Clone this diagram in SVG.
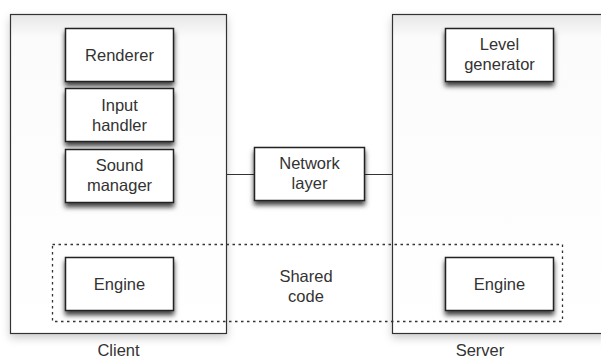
<svg xmlns="http://www.w3.org/2000/svg" width="601" height="359" viewBox="0 0 601 359">
<defs>
<filter id="sh" x="-20%" y="-30%" width="140%" height="170%">
<feGaussianBlur in="SourceAlpha" stdDeviation="2.5" result="blur"/>
<feOffset in="blur" dx="0" dy="4" result="off"/>
<feFlood flood-color="#000" flood-opacity="0.75" result="col"/>
<feComposite in="col" in2="off" operator="in" result="shadow"/>
<feMerge><feMergeNode in="shadow"/><feMergeNode in="SourceGraphic"/></feMerge>
</filter>
<filter id="shbig" x="-10%" y="-10%" width="120%" height="120%">
<feGaussianBlur in="SourceAlpha" stdDeviation="4" result="blur"/>
<feOffset in="blur" dx="0" dy="4" result="off"/>
<feFlood flood-color="#000" flood-opacity="0.2" result="col"/>
<feComposite in="col" in2="off" operator="in" result="shadow"/>
<feMerge><feMergeNode in="shadow"/><feMergeNode in="SourceGraphic"/></feMerge>
</filter>
<linearGradient id="og" x1="0" y1="0" x2="0" y2="1">
<stop offset="0" stop-color="#e6e6e6"/>
<stop offset="0.07" stop-color="#fbfbfb"/>
<stop offset="1" stop-color="#fff"/>
</linearGradient>
</defs>
<style>
.box{fill:#fff;stroke:#222;stroke-width:1.5}
.outer{fill:url(#og);stroke:#333;stroke-width:1.2}
.t{font-family:"Liberation Sans",Arial,sans-serif;font-size:16.5px;fill:#333;text-anchor:middle}
.conn{stroke:#333;stroke-width:1;fill:none}
.dash{fill:none;stroke:#333;stroke-width:1.3;stroke-dasharray:2.5,3.5}
</style>
<rect width="601" height="359" fill="#fff"/>
<g id="client">
<rect class="outer" x="10.5" y="14.5" width="216" height="319" filter="url(#shbig)"/>
<text class="t" x="118.5" y="356">Client</text>
</g>
<g id="server">
<rect class="outer" x="392.5" y="14.5" width="215" height="319" filter="url(#shbig)"/>
<text class="t" x="480" y="356">Server</text>
</g>
<g id="connectors">
<line class="conn" x1="227" y1="174.5" x2="254" y2="174.5"/>
<line class="conn" x1="364" y1="174.5" x2="392" y2="174.5"/>
</g>
<g id="shared">
<rect class="dash" x="52.5" y="244.5" width="510" height="77"/>
<text class="t" x="306" y="282">Shared</text>
<text class="t" x="306" y="302">code</text>
</g>
<g id="renderer">
<rect class="box" x="65.5" y="28.5" width="108" height="53" filter="url(#sh)"/>
<text class="t" x="119.5" y="61">Renderer</text>
</g>
<g id="input-handler">
<rect class="box" x="65.5" y="88.5" width="108" height="53" filter="url(#sh)"/>
<text class="t" x="119.5" y="111">Input</text>
<text class="t" x="119.5" y="131">handler</text>
</g>
<g id="sound-manager">
<rect class="box" x="65.5" y="149.5" width="108" height="53" filter="url(#sh)"/>
<text class="t" x="119.5" y="171">Sound</text>
<text class="t" x="119.5" y="191">manager</text>
</g>
<g id="client-engine">
<rect class="box" x="65.5" y="257.5" width="108" height="53" filter="url(#sh)"/>
<text class="t" x="119.5" y="290">Engine</text>
</g>
<g id="network-layer">
<rect class="box" x="254.5" y="147.5" width="110" height="53" filter="url(#sh)"/>
<text class="t" x="309.5" y="169">Network</text>
<text class="t" x="309.5" y="189">layer</text>
</g>
<g id="level-generator">
<rect class="box" x="445.5" y="28.5" width="108" height="53" filter="url(#sh)"/>
<text class="t" x="499.5" y="50">Level</text>
<text class="t" x="499.5" y="70">generator</text>
</g>
<g id="server-engine">
<rect class="box" x="445.5" y="257.5" width="108" height="53" filter="url(#sh)"/>
<text class="t" x="499.5" y="290">Engine</text>
</g>
</svg>
